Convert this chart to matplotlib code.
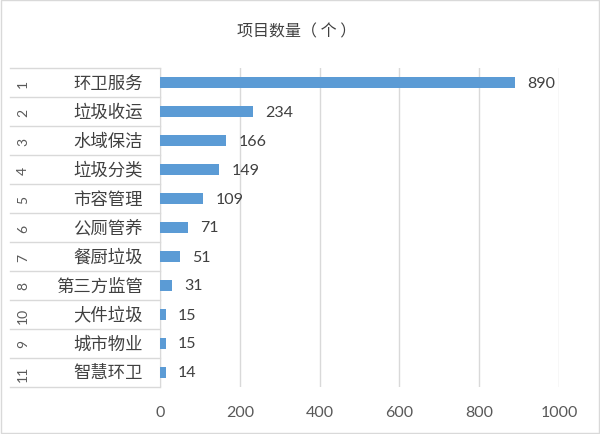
import matplotlib.pyplot as plt
import matplotlib.transforms as mtransforms
from matplotlib.patches import Rectangle

plt.rcParams['font.family'] = ['Noto Sans CJK SC', 'DejaVu Sans']

# data, top to bottom
ranks = ["1", "2", "3", "4", "5", "6", "7", "8", "10", "9", "11"]
names = ["环卫服务", "垃圾收运", "水域保洁", "垃圾分类", "市容管理", "公厕管养",
         "餐厨垃圾", "第三方监管", "大件垃圾", "城市物业", "智慧环卫"]
counts = [890, 234, 166, 149, 109, 71, 51, 31, 15, 15, 14]
title = "项目数量（ 个 ）"

BAR = "#5b9bd5"
GRID = "#d9d9d9"
TXT = "#404040"
NUMFONT = ["Lato", "DejaVu Sans"]

fig = plt.figure(figsize=(6, 4.35), dpi=100)
ax = fig.add_axes([160 / 600, 1 - 388 / 435, 399 / 600, 319 / 435])

n = len(names)
ypos = list(range(n))
ax.barh(ypos, counts, height=0.36, color=BAR, zorder=3)
ax.set_ylim(n - 0.5, -0.5)
ax.set_xlim(0, 1000)
ax.set_xticks(range(0, 1001, 200))
ax.set_xticklabels([str(t) for t in range(0, 1001, 200)],
                   family=NUMFONT, fontsize=11.5, color="#595959")
ax.tick_params(axis="x", length=0, pad=13)
ax.tick_params(axis="y", length=0, labelleft=False)
ax.grid(axis="x", color=GRID, linewidth=1, zorder=0)
for s in ["top", "right", "bottom"]:
    ax.spines[s].set_visible(False)
ax.spines["left"].set_color(GRID)

for y, v in zip(ypos, counts):
    ax.text(v + 30, y, str(v), va="center", ha="left", fontsize=11.5,
            color=TXT, family=NUMFONT)

# category table on the left
tr = mtransforms.blended_transform_factory(ax.transAxes, ax.transData)
x0 = -150 / 399
for k in range(n + 1):
    ax.plot([x0, 0], [k - 0.5, k - 0.5], color=GRID, lw=1,
            transform=tr, clip_on=False)
for y, r, nm in zip(ypos, ranks, names):
    ax.text(-137 / 399, y, r, rotation=90, va="center", ha="center",
            fontsize=10, color="#595959", transform=tr, family=NUMFONT)
    ax.text(-17 / 399, y, nm, va="center", ha="right", fontsize=12.5,
            color=TXT, transform=tr, fontweight=300)

fig.text(297 / 600, 1 - 32 / 435, title, ha="center", va="center",
         fontsize=11.5, color=TXT, fontweight=300)

fig.patches.append(Rectangle((0.002, 0.002), 0.996, 0.995, fill=False,
                             edgecolor=GRID, lw=1, transform=fig.transFigure))

fig.savefig("out.png", dpi=100)
